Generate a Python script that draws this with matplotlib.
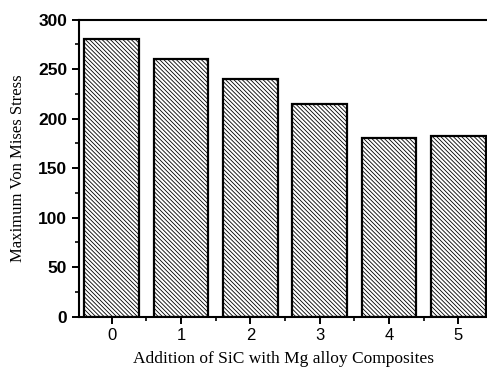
import matplotlib
matplotlib.use("Agg")
import matplotlib.pyplot as plt
from matplotlib.ticker import MultipleLocator

categories = [0, 1, 2, 3, 4, 5]
stress = [280, 260, 240, 215, 180, 182]
yticks = [0, 50, 100, 150, 200, 250, 300]

plt.rcParams['hatch.linewidth'] = 0.6
fig = plt.figure(figsize=(4.87, 3.69), dpi=100)
ax = fig.add_axes([79/487, 52.3/369, 1 - 79/487 + 0.004, (316.7-19.5)/369])

ax.bar(categories, stress, width=0.79, color='white', edgecolor='black',
       linewidth=1.6, hatch='\\' * 8)
ax.set_xlim(-0.47, 5.44)
ax.set_ylim(0, 300)
ax.set_yticks(yticks)
ax.set_xticks(categories)
ax.yaxis.set_minor_locator(MultipleLocator(25))
ax.xaxis.set_minor_locator(MultipleLocator(0.5))
ax.spines['right'].set_visible(False)
for s in ['left', 'top', 'bottom']:
    ax.spines[s].set_linewidth(1.5)
ax.tick_params(axis='both', which='major', direction='out', length=5, width=1.4)
ax.tick_params(axis='both', which='minor', direction='out', length=3, width=1.2)
ax.tick_params(axis='x', pad=3)
for lab in ax.get_yticklabels():
    lab.set_fontfamily('Liberation Sans')
    lab.set_fontweight('bold')
    lab.set_fontsize(12.5)
for lab in ax.get_xticklabels():
    lab.set_fontfamily('Liberation Sans')
    lab.set_fontsize(12)
ax.set_xlabel('Addition of SiC with Mg alloy Composites', fontfamily='Liberation Serif',
              fontsize=12.5, labelpad=6)
ax.set_ylabel('Maximum Von Mises Stress', fontfamily='Liberation Serif', fontsize=12,
              labelpad=9)
fig.savefig('out.png', dpi=100)
